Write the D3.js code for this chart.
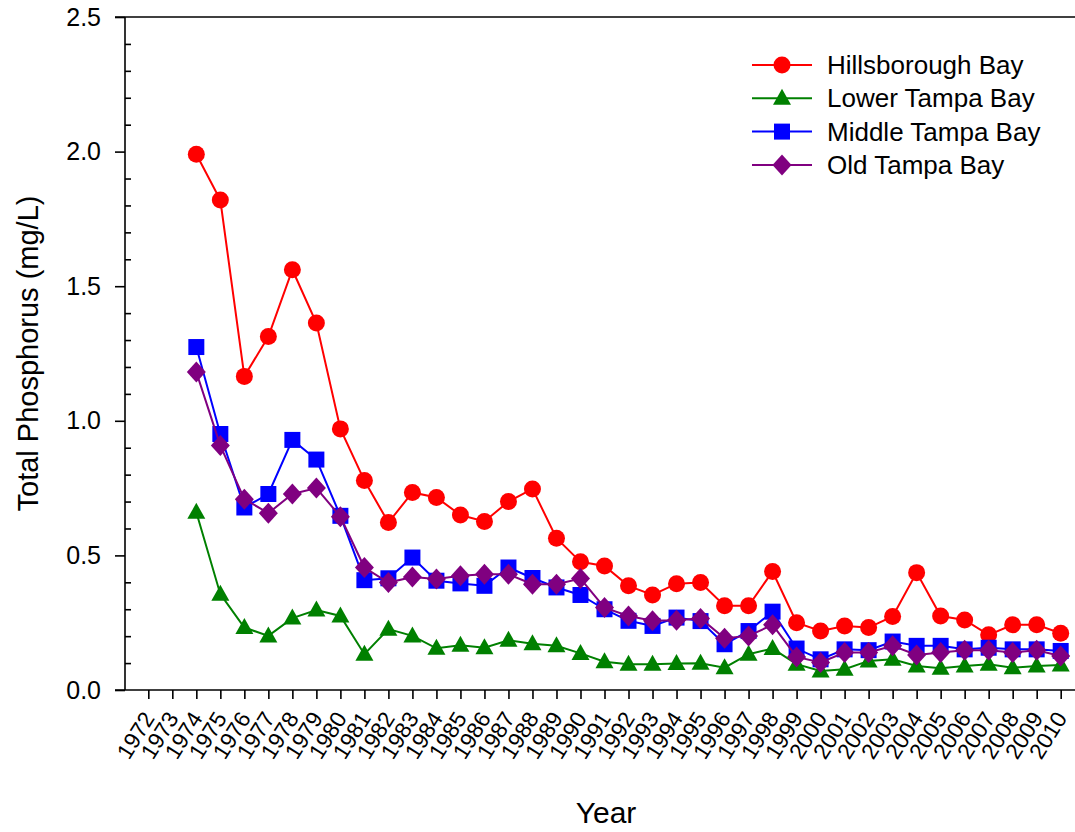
<!DOCTYPE html>
<html><head><meta charset="utf-8">
<script src="https://cdn.jsdelivr.net/npm/d3@7"></script>
<style>body{margin:0;background:#fff}svg{display:block}text{font-family:"Liberation Sans",Arial,sans-serif;fill:#000}</style>
</head><body>
<script>
const years = d3.range(1974, 2011);
const tickYears = d3.range(1972, 2011);
const yTicksMajor = [0, 0.5, 1.0, 1.5, 2.0, 2.5];
const seriesNames = ["Hillsborough Bay", "Lower Tampa Bay", "Middle Tampa Bay", "Old Tampa Bay"];
const seriesColors = ["#ff0000", "#008000", "#0000ff", "#800080"];
const seriesShapes = ["circle", "triangle", "square", "diamond"];
const hillsborough = [1.99,1.82,1.165,1.313,1.561,1.363,0.970,0.778,0.622,0.734,0.715,0.650,0.626,0.700,0.747,0.564,0.476,0.461,0.387,0.353,0.395,0.399,0.313,0.313,0.440,0.250,0.219,0.238,0.232,0.273,0.436,0.275,0.260,0.205,0.242,0.242,0.211];
const lowerTampa = [0.66,0.356,0.232,0.201,0.267,0.297,0.275,0.133,0.226,0.201,0.155,0.166,0.157,0.185,0.172,0.164,0.136,0.105,0.096,0.096,0.098,0.099,0.083,0.133,0.154,0.096,0.071,0.077,0.108,0.114,0.089,0.081,0.089,0.096,0.083,0.089,0.093];
const middleTampa = [1.274,0.951,0.678,0.728,0.929,0.856,0.647,0.408,0.415,0.492,0.406,0.396,0.387,0.455,0.416,0.381,0.353,0.300,0.257,0.238,0.269,0.256,0.170,0.219,0.291,0.154,0.114,0.151,0.148,0.180,0.164,0.164,0.151,0.157,0.151,0.151,0.145];
const oldTampa = [1.181,0.908,0.709,0.657,0.728,0.750,0.644,0.455,0.399,0.420,0.412,0.424,0.430,0.430,0.393,0.393,0.414,0.306,0.275,0.257,0.259,0.266,0.192,0.201,0.242,0.123,0.102,0.139,0.139,0.164,0.130,0.139,0.148,0.148,0.139,0.148,0.126];
const seriesValues = [hillsborough, lowerTampa, middleTampa, oldTampa];

const W = 1075, H = 832;
const svg = d3.select("body").append("svg").attr("width", W).attr("height", H);
const x = d3.scaleLinear().domain([1971, 2011]).range([124.3, 1084.7]);
const y = d3.scaleLinear().domain([0, 2.5]).range([690, 17]);
const axisX = 125;

function markerPath(shape) {
  if (shape === "circle") return "M8.5,0A8.5,8.5 0 1,1 -8.5,0A8.5,8.5 0 1,1 8.5,0Z";
  if (shape === "square") return "M-8,-8H8V8H-8Z";
  if (shape === "triangle") return "M0,-9.5L9,6.5H-9Z";
  return "M0,-10.5L9.5,0L0,10.5L-9.5,0Z";
}

// frame lines
svg.append("line").attr("x1", 115).attr("x2", W).attr("y1", y(2.5)).attr("y2", y(2.5)).attr("stroke", "#000").attr("stroke-width", 1.6);
svg.append("line").attr("x1", 115).attr("x2", W).attr("y1", y(0)).attr("y2", y(0)).attr("stroke", "#000").attr("stroke-width", 1.6);
svg.append("line").attr("x1", axisX).attr("x2", axisX).attr("y1", y(2.5)).attr("y2", y(0)).attr("stroke", "#000").attr("stroke-width", 1.6);

// y axis: major outward, minor inward
const yAxis = d3.axisLeft(y).tickValues(yTicksMajor).tickFormat(d3.format(".1f")).tickSize(10).tickPadding(14);
const gy = svg.append("g").attr("transform", `translate(${axisX},0)`).call(yAxis);
gy.select(".domain").remove();
gy.selectAll("line").attr("stroke-width", 1.6);
gy.selectAll("text").style("font-size", "25px");
const minorTicks = d3.range(1, 25).filter(i => i % 5 !== 0).map(i => i / 10);
const yMinor = d3.axisRight(y).tickValues(minorTicks).tickSize(6).tickFormat("");
const gym = svg.append("g").attr("transform", `translate(${axisX},0)`).call(yMinor);
gym.select(".domain").remove();
gym.selectAll("line").attr("stroke-width", 1.6);

// x axis
const xAxis = d3.axisBottom(x).tickValues(tickYears).tickFormat(d3.format("d")).tickSize(9).tickPadding(0);
const gx = svg.append("g").attr("transform", `translate(0,${y(0)})`).call(xAxis);
gx.select(".domain").remove();
gx.selectAll("line").attr("stroke-width", 1.6);
gx.selectAll(".tick text")
  .style("font-size", "22.5px")
  .attr("text-anchor", "end")
  .attr("dy", "0.35em")
  .attr("transform", "translate(0,24) rotate(-58)")
  .attr("x", 0);
gx.selectAll(".tick text").each(function(){ this.removeAttribute("y"); });

// axis titles
svg.append("text").attr("x", 606).attr("y", 823).attr("text-anchor", "middle").style("font-size", "30px").text("Year");
svg.append("text").attr("transform", `translate(38,${(y(0)+y(2.5))/2}) rotate(-90)`).attr("text-anchor", "middle").style("font-size", "29px").text("Total Phosphorus (mg/L)");

// series
const line = d3.line().x((d, i) => x(years[i])).y(d => y(d));
seriesValues.forEach((vals, s) => {
  const g = svg.append("g");
  g.append("path").datum(vals).attr("d", line).attr("fill", "none").attr("stroke", seriesColors[s]).attr("stroke-width", 2);
  g.selectAll("path.m").data(vals).join("path").attr("class", "m")
    .attr("d", markerPath(seriesShapes[s]))
    .attr("transform", (d, i) => `translate(${x(years[i])},${y(d)})`)
    .attr("fill", seriesColors[s]);
});

// legend
const legY0 = 65, legStep = 33.3;
seriesNames.forEach((name, s) => {
  const ly = legY0 + s * legStep;
  const g = svg.append("g");
  g.append("line").attr("x1", 752).attr("x2", 812).attr("y1", ly).attr("y2", ly).attr("stroke", seriesColors[s]).attr("stroke-width", 2);
  g.append("path").attr("d", markerPath(seriesShapes[s])).attr("transform", `translate(782,${ly})`).attr("fill", seriesColors[s]);
  g.append("text").attr("x", 827).attr("y", ly).attr("dy", "0.35em").style("font-size", "26px").text(name);
});
</script>
</body></html>
